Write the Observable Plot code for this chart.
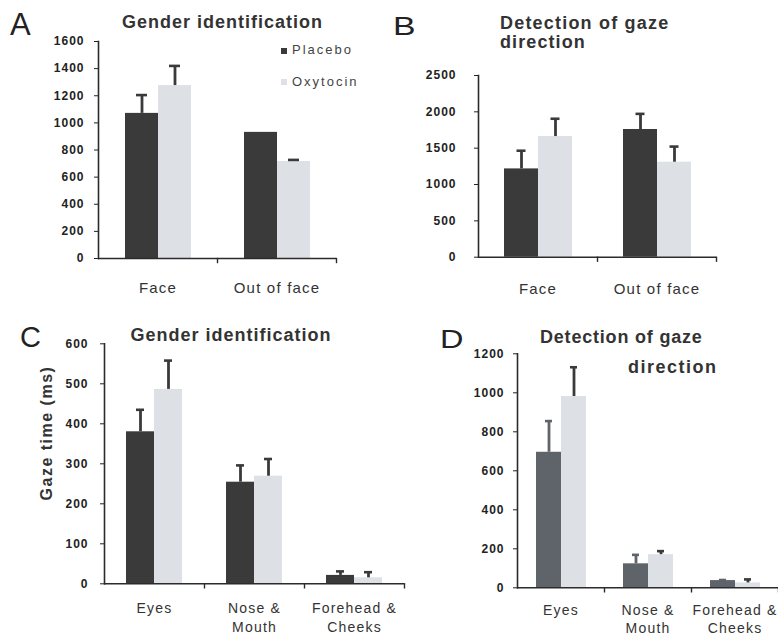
<!DOCTYPE html>
<html><head><meta charset="utf-8">
<script src="https://cdn.jsdelivr.net/npm/d3@7"></script>
<script src="https://cdn.jsdelivr.net/npm/@observablehq/plot@0.6"></script>
<style>
html,body{margin:0;padding:0;background:#fff;}
#root{position:relative;width:778px;height:637px;overflow:hidden;font-family:"Liberation Sans",Arial,sans-serif;color:#222;}
.panel{position:absolute;}
.lbl{position:absolute;line-height:1;white-space:nowrap;}
.letter{font-weight:normal;color:#222;}
.title{font-weight:bold;color:#333;}
.leg{font-size:13px;letter-spacing:2px;color:#444;}
.sw{position:absolute;width:6px;height:6px;}
g[aria-label="y-axis tick label"] text{letter-spacing:1px;}
g[aria-label="fx-axis tick label"] text{letter-spacing:1.2px;}
</style></head><body><div id="root"></div>
<script>
// ---------- data ----------
const groups = ["Placebo", "Oxytocin"];

const aCategories = ["Face", "Out of face"];
const aPlacebo = [1070, 930];
const aPlaceboErr = [135, 0];
const aOxytocin = [1275, 715];
const aOxytocinErr = [145, 12];
const aTicks = [0, 200, 400, 600, 800, 1000, 1200, 1400, 1600];

const bCategories = ["Face", "Out of face"];
const bPlacebo = [1215, 1757];
const bPlaceboErr = [250, 215];
const bOxytocin = [1660, 1307];
const bOxytocinErr = [245, 215];
const bTicks = [0, 500, 1000, 1500, 2000, 2500];

const cCategories = ["Eyes", "Nose & Mouth", "Forehead & Cheeks"];
const cPlacebo = [380, 254, 21];
const cPlaceboErr = [55, 42, 10];
const cOxytocin = [486, 269, 15];
const cOxytocinErr = [72, 43, 14];
const cTicks = [0, 100, 200, 300, 400, 500, 600];

const dCategories = ["Eyes", "Nose & Mouth", "Forehead & Cheeks"];
const dPlacebo = [695, 123, 37];
const dPlaceboErr = [160, 46, 3];
const dOxytocin = [981, 170, 25];
const dOxytocinErr = [150, 18, 18];
const dTicks = [0, 200, 400, 600, 800, 1000, 1200];

const labelLines = {"Nose & Mouth": "Nose &\nMouth", "Forehead & Cheeks": "Forehead &\nCheeks"};

const DARK = "#3a3a3a", LIGHT = "#dde0e5", AX = "#2b2b2b";

function rowsOf(cats, p, pe, o, oe) {
  const rows = [];
  cats.forEach((c, i) => {
    rows.push({cat: c, grp: "Placebo", value: p[i], err: pe[i], top: p[i] + pe[i]});
    rows.push({cat: c, grp: "Oxytocin", value: o[i], err: oe[i], top: o[i] + oe[i]});
  });
  return rows;
}

const root = document.getElementById("root");

function makePanel(cfg) {
  const rows = rowsOf(cfg.cats, cfg.p, cfg.pe, cfg.o, cfg.oe);
  const withErr = rows.filter(d => d.err > 0);
  const innerH = cfg.height - cfg.mt - cfg.mb;
  const errStroke = d => d.grp === "Placebo" ? cfg.pErrColor : DARK;
  const chart = Plot.plot({
    width: cfg.width, height: cfg.height,
    marginLeft: cfg.ml, marginRight: cfg.mr, marginTop: cfg.mt, marginBottom: cfg.mb,
    style: {fontFamily: '"Liberation Sans", Arial, sans-serif', background: "transparent", overflow: "visible"},
    fx: {domain: cfg.cats, padding: 0, label: null},
    x: {domain: groups, paddingInner: 0, paddingOuter: cfg.po, axis: null},
    y: {domain: [0, cfg.ticks[cfg.ticks.length - 1]]},
    color: {domain: groups, range: [cfg.pFill, LIGHT]},
    marks: [
      Plot.barY(rows, {fx: "cat", x: "grp", y: "value", fill: "grp"}),
      Plot.ruleX(withErr, {fx: "cat", x: "grp", y1: "value", y2: "top", stroke: errStroke, strokeWidth: cfg.ew}),
      Plot.tickY(withErr, {fx: "cat", x: "grp", y: "top", stroke: errStroke, strokeWidth: 2.6, insetLeft: cfg.cap, insetRight: cfg.cap}),
      Plot.ruleY([0], {stroke: AX, strokeWidth: 1.6}),
      Plot.frame({anchor: "left", facetAnchor: "left", stroke: AX, strokeWidth: 1.6}),
      Plot.frame({anchor: "right", stroke: AX, strokeWidth: 1.4, insetTop: innerH, insetBottom: -4}),
      Plot.axisY({ticks: cfg.ticks, tickSize: 4, tickPadding: cfg.tp, fontSize: cfg.tf || 12, fontWeight: "bold", color: "#222", label: null, tickFormat: d => String(d)}),
      Plot.axisFx({anchor: "bottom", tickSize: 0, tickPadding: cfg.fp, fontSize: cfg.ff, lineHeight: cfg.lh || 1, color: "#333", label: null, tickFormat: d => labelLines[d] ?? d})
    ]
  });
  const wrap = document.createElement("div");
  wrap.className = "panel";
  wrap.style.left = cfg.left + "px";
  wrap.style.top = cfg.top + "px";
  wrap.appendChild(chart);
  root.appendChild(wrap);
}

makePanel({left: 0, top: 0, width: 345, height: 310, ml: 97, mr: 8.5, mt: 41, mb: 52,
  cats: aCategories, p: aPlacebo, pe: aPlaceboErr, o: aOxytocin, oe: aOxytocinErr, ticks: aTicks,
  po: 0.78, tp: 10, fp: 24, ff: 15, cap: 11, ew: 2.8, pFill: DARK, pErrColor: DARK});

makePanel({left: 390, top: 0, width: 340, height: 310, ml: 88, mr: 14, mt: 75, mb: 53.3,
  cats: bCategories, p: bPlacebo, pe: bPlaceboErr, o: bOxytocin, oe: bOxytocinErr, ticks: bTicks,
  po: 0.75, tp: 18, fp: 26.6, ff: 15, cap: 12.5, ew: 2.8, pFill: DARK, pErrColor: DARK});

makePanel({left: 0, top: 310, width: 420, height: 327, ml: 104, mr: 16, mt: 33.3, mb: 53.7,
  cats: cCategories, p: cPlacebo, pe: cPlaceboErr, o: cOxytocin, oe: cOxytocinErr, ticks: cTicks,
  po: 0.767, tp: 12, fp: 15, ff: 14, lh: 1.4, cap: 10, ew: 2.8, pFill: DARK, pErrColor: DARK});

makePanel({left: 400, top: 310, width: 378, height: 327, ml: 116, mr: 0, mt: 43.3, mb: 49.7,
  cats: dCategories, p: dPlacebo, pe: dPlaceboErr, o: dOxytocin, oe: dOxytocinErr, ticks: dTicks,
  po: 0.71, tp: 9, fp: 14.5, ff: 14, lh: 1.3, cap: 9, ew: 2.8, pFill: "#5f636a", pErrColor: "#5f636a"});

// ---------- text: letters, titles, legend, y label ----------
function addText(txt, left, capTop, fs, cls, extra) {
  const d = document.createElement("div");
  d.className = "lbl " + cls;
  d.textContent = txt;
  d.style.fontSize = fs + "px";
  d.style.left = left + "px";
  d.style.top = (capTop - 0.13 * fs) + "px";
  if (extra) Object.assign(d.style, extra);
  root.appendChild(d);
  return d;
}
function addCentered(txt, cx, capTop, fs, cls, ls) {
  const d = addText(txt, cx - 150, capTop, fs, cls, {width: "300px", textAlign: "center", letterSpacing: ls + "px"});
  return d;
}

addText("A", 10, 13, 31, "letter");
addText("B", 393, 16, 26, "letter", {transform: "scaleX(1.3)", transformOrigin: "left top"});
addText("C", 20, 327, 29, "letter");
addText("D", 440, 329, 26, "letter", {transform: "scaleX(1.25)", transformOrigin: "left top"});

addCentered("Gender identification", 222.5, 15, 18, "title", 1.0);
addText("Detection of gaze", 500, 16, 18, "title", {letterSpacing: "1.2px"});
addText("direction", 500, 35.5, 18, "title", {letterSpacing: "1.1px"});
addCentered("Gender identification", 231, 328, 18, "title", 1.0);
addText("Detection of gaze", 540, 330, 18, "title", {letterSpacing: "0.8px"});
addText("direction", 628, 360, 18, "title", {letterSpacing: "1.5px"});

// legend (panel A)
const legendItems = [{name: groups[0], color: DARK, capTop: 45}, {name: groups[1], color: LIGHT, capTop: 76.7}];
legendItems.forEach(it => {
  const s = document.createElement("div");
  s.className = "sw";
  s.style.left = "281px";
  s.style.top = (it.capTop + 2.5) + "px";
  s.style.background = it.color;
  root.appendChild(s);
  addText(it.name, 292, it.capTop, 13, "leg");
});

// y label (panel C)
const yl = document.createElement("div");
yl.className = "lbl title";
yl.textContent = "Gaze time (ms)";
Object.assign(yl.style, {fontSize: "16px", letterSpacing: "1.5px", left: "47px", top: "433px",
  transform: "translate(-50%, -50%) rotate(-90deg)", color: "#333"});
root.appendChild(yl);
</script></body></html>
